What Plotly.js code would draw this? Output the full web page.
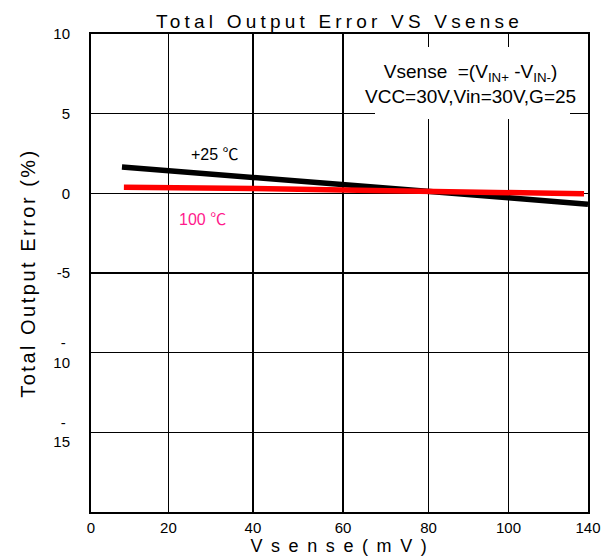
<!DOCTYPE html>
<html>
<head>
<meta charset="utf-8">
<script src="https://cdn.plot.ly/plotly-3.0.1.min.js"></script>
<style>
  html, body { margin: 0; padding: 0; background: #fff; }
  #chart { width: 601px; height: 559px; }
  text.gtitle { letter-spacing: 4.2px; }
  text.xtitle { letter-spacing: 1.8px; }
  text.ytitle { letter-spacing: 2.5px; }
</style>
</head>
<body>
<div id="chart"></div>
<script>
// ---- data ----
const xTickLabels = [0, 20, 40, 60, 80, 100, 140];          // Vsense tick labels (mV)
const xGridPos    = [0, 21.8, 45.6, 71.0, 95.1, 117.6, 140]; // where the reference draws those gridlines (non-uniform)
const yTickVals   = [10, 5, 0, -5, -10, -15];
const yTickText   = ['10', '5', '0', '-5', '-\u00a0<br>10', '-\u00a0<br>15'];

const vsense25 = [8, 20, 40, 60, 80, 100, 140];
const err25    = [1.65, 1.42, 1.0, 0.6, 0.2, -0.28, -0.68];
const vsense100 = [8.5, 20, 40, 60, 80, 100, 138];
const err100    = [0.38, 0.38, 0.3, 0.21, 0.13, 0.06, -0.03];

// piecewise-linear scale from mV to the chart's (non-uniform) grid
function xScale(mv) {
  for (let i = 0; i < xTickLabels.length - 1; i++) {
    const a = xTickLabels[i], b = xTickLabels[i + 1];
    if (mv <= b || i === xTickLabels.length - 2) {
      const t = (mv - a) / (b - a);
      return xGridPos[i] + t * (xGridPos[i + 1] - xGridPos[i]);
    }
  }
}

const FONT = 'Liberation Sans, Arial, Noto Sans CJK SC, sans-serif';

const traces = [
  {
    x: vsense25.map(xScale), y: err25, type: 'scatter', mode: 'lines',
    line: { color: '#000000', width: 5.5 }, name: '+25 ℃', hoverinfo: 'skip'
  },
  {
    x: vsense100.map(xScale), y: err100, type: 'scatter', mode: 'lines',
    line: { color: '#ff0000', width: 5.5 }, name: '100 ℃', hoverinfo: 'skip'
  }
];

const layout = {
  width: 601, height: 559,
  margin: { l: 91, r: 13, t: 34, b: 47, pad: 0 },
  paper_bgcolor: '#ffffff', plot_bgcolor: '#ffffff',
  showlegend: false,
  font: { family: FONT, color: '#000000' },
  title: {
    text: 'Total Output Error VS Vsense',
    font: { family: FONT, size: 19, color: '#000000' },
    x: 0.5, xref: 'paper', xanchor: 'center',
    y: 1 - 21 / 559, yref: 'container', yanchor: 'middle'
  },
  xaxis: {
    range: [0, 140], tickmode: 'array', tickvals: xGridPos, ticktext: xTickLabels.map(String),
    showgrid: true, gridcolor: '#000000', gridwidth: 1.6,
    showline: true, mirror: true, linecolor: '#000000', linewidth: 2,
    zeroline: false, ticks: '', ticklabelstandoff: 1,
    tickfont: { family: FONT, size: 15, color: '#000000' },
    automargin: false, fixedrange: true,
    title: { text: '\u00a0\u00a0\u00a0V s e n s e ( m V )', font: { family: FONT, size: 18, color: '#000000' }, standoff: 3 }
  },
  yaxis: {
    range: [-20, 10], tickmode: 'array', tickvals: yTickVals, ticktext: yTickText,
    showgrid: true, gridcolor: '#000000', gridwidth: 1.6,
    showline: true, mirror: true, linecolor: '#000000', linewidth: 2,
    zeroline: false, ticks: '', ticklabelstandoff: 16,
    tickfont: { family: FONT, size: 15, color: '#000000' },
    automargin: false, fixedrange: true,
    title: { text: 'Total Output Error (%)', font: { family: FONT, size: 20, color: '#000000' }, standoff: 12 }
  },
  shapes: [
    { type: 'rect', xref: 'paper', yref: 'paper', layer: 'above',
      x0: (375 - 91) / 497, x1: (570 - 91) / 497, y0: (512 - 119) / 478, y1: (512 - 47) / 478,
      fillcolor: '#ffffff', line: { width: 0 } }
  ],
  annotations: [
    { xref: 'paper', yref: 'paper', x: (470 - 91) / 497, y: (512 - 84) / 478,
      xanchor: 'center', yanchor: 'middle', showarrow: false, align: 'center',
      text: 'Vsense\u00a0\u00a0=(V<sub>IN+</sub> -V<sub>IN-</sub>)<br>VCC=30V,Vin=30V,G=25',
      font: { family: FONT, size: 19, color: '#000000' } },
    { xref: 'paper', yref: 'paper', x: (189 - 91) / 497, y: (512 - 154) / 478,
      xanchor: 'left', yanchor: 'middle', showarrow: false,
      text: '+25 ℃', font: { family: FONT, size: 16, color: '#000000' } },
    { xref: 'paper', yref: 'paper', x: (177 - 91) / 497, y: (512 - 220) / 478,
      xanchor: 'left', yanchor: 'middle', showarrow: false,
      text: '100 ℃', font: { family: FONT, size: 16, color: '#ff1a8c' } }
  ]
};

Plotly.newPlot('chart', traces, layout, { staticPlot: true, displayModeBar: false });
</script>
</body>
</html>
